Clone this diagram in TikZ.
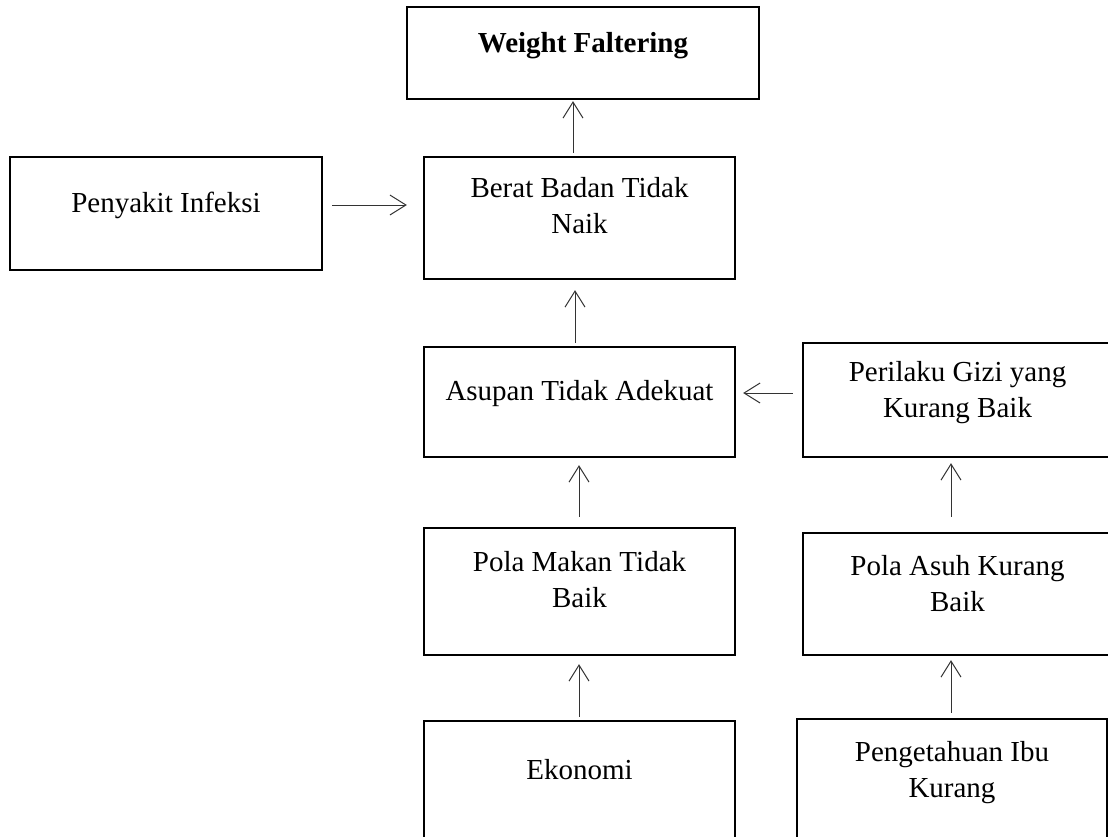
\documentclass[tikz,border=0pt]{standalone}
\usepackage{fontspec}
\setmainfont{Liberation Serif}
\usetikzlibrary{arrows.meta}

\begin{document}
\begin{tikzpicture}[x=1pt,y=-1pt,
box/.style={draw, line width=2.3pt, inner sep=0pt, align=center, font=\fontsize{29}{36}\selectfont},
one/.style={text height=20pt},
two/.style={text height=56pt},
arr/.style={draw=black!80, line width=1pt, -{Straight Barb[length=16pt,width=20pt]}}]

\useasboundingbox (0,0) rectangle (1108,836);

\node[box, one, minimum width=352pt, minimum height=92pt, text depth=22pt, font=\fontsize{29}{36}\selectfont\bfseries] (wf) at (583,53) {Weight Faltering};
\node[box, two, minimum width=311pt, minimum height=122pt, text depth=26pt] (berat) at (579.5,218) {Berat Badan Tidak\\Naik};
\node[box, one, minimum width=312pt, minimum height=113pt, text depth=23pt] (infeksi) at (166,213.5) {Penyakit Infeksi};
\node[box, one, minimum width=311pt, minimum height=110pt, text depth=24pt] (asupan) at (579.5,402) {Asupan Tidak Adekuat};
\node[box, two, minimum width=309pt, minimum height=114pt, text depth=22pt] (perilaku) at (957.5,400) {Perilaku Gizi yang\\Kurang Baik};
\node[box, two, minimum width=311pt, minimum height=127pt, text depth=25pt] (makan) at (579.5,591.5) {Pola Makan Tidak\\Baik};
\node[box, two, minimum width=309pt, minimum height=122pt, text depth=22pt] (asuh) at (957.5,594) {Pola Asuh Kurang\\Baik};
\node[box, one, minimum width=311pt, minimum height=117pt, text depth=21pt] (ekonomi) at (579.5,779.5) {Ekonomi};
\node[box, two, minimum width=310pt, minimum height=119pt, text depth=19pt] (tahu) at (952,778.5) {Pengetahuan Ibu\\Kurang};

\draw[arr, shorten <=3pt, shorten >=1pt] ([xshift=-6.5pt]berat.north) -- ([xshift=-6.5pt]berat.north |- wf.south);
\draw[arr, shorten <=9pt, shorten >=16pt] ([yshift=8.5pt]infeksi.east) -- ([yshift=8.5pt]infeksi.east -| berat.west);
\draw[arr, shorten <=3pt, shorten >=10pt] ([xshift=-4.5pt]asupan.north) -- ([xshift=-4.5pt]asupan.north |- berat.south);
\draw[arr, shorten <=9pt, shorten >=7pt] ([yshift=7pt]perilaku.west) -- ([yshift=7pt]perilaku.west -| asupan.east);
\draw[arr, shorten <=10pt, shorten >=7pt] ([xshift=-0.5pt]makan.north) -- ([xshift=-0.5pt]makan.north |- asupan.south);
\draw[arr, shorten <=15pt, shorten >=5pt] ([xshift=-6.5pt]asuh.north) -- ([xshift=-6.5pt]asuh.north |- perilaku.south);
\draw[arr, shorten <=3pt, shorten >=8pt] ([xshift=-0.5pt]ekonomi.north) -- ([xshift=-0.5pt]ekonomi.north |- makan.south);
\draw[arr, shorten <=5pt, shorten >=4pt] ([xshift=-1pt]tahu.north) -- ([xshift=-1pt]tahu.north |- asuh.south);

\end{tikzpicture}
\end{document}
